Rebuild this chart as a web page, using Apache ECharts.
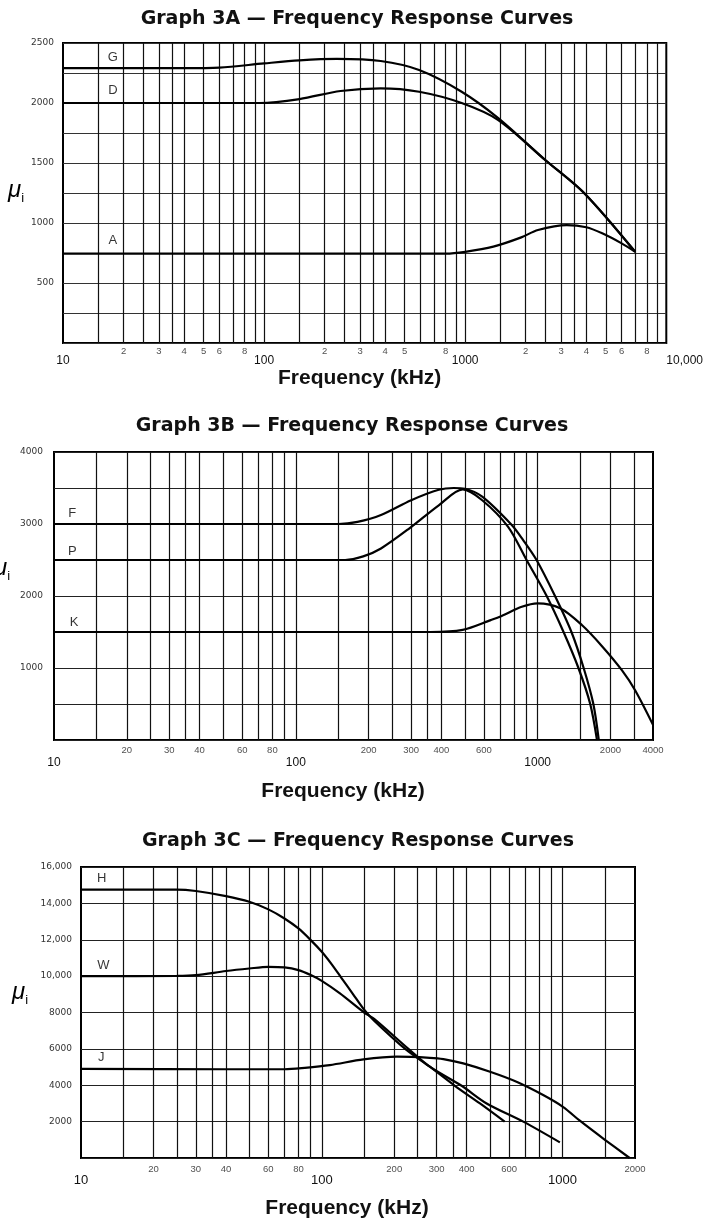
<!DOCTYPE html>
<html>
<head>
<meta charset="utf-8">
<script src="https://cdn.jsdelivr.net/npm/echarts@6/dist/echarts.min.js"></script>
<style>
html,body{margin:0;padding:0;background:#fff;}
#chart{width:706px;height:1221px;}
</style>
</head>
<body>
<div id="chart"></div>
<script>
// ---------- Graph 3A data (frequency kHz, initial permeability) ----------
const freqG = [10, 40, 60, 100, 150, 230, 380, 590, 960, 1460, 2500, 3900, 7000];
const muG   = [2290, 2290, 2295, 2330, 2355, 2367, 2350, 2275, 2094, 1874, 1525, 1250, 760];
const freqD = [10, 95, 150, 240, 380, 590, 960, 1460, 2500, 3900, 7000];
const muD   = [2000, 2000, 2033, 2100, 2122, 2094, 2000, 1858, 1525, 1250, 760];
const freqA = [10, 800, 1000, 1380, 1900, 2300, 3200, 4000, 4800, 6000, 7000];
const muA   = [745, 745, 760, 803, 880, 942, 983, 965, 914, 830, 760];

// ---------- Graph 3B data ----------
const freqF = [10, 150, 180, 225, 300, 390, 450, 500, 590, 780, 870, 990, 1180, 1380, 1550, 1700, 1790];
const muF   = [3000, 3000, 3030, 3125, 3330, 3475, 3500, 3490, 3380, 2990, 2780, 2500, 2000, 1500, 1000, 500, 0];
const freqP = [10, 160, 190, 225, 295, 390, 490, 590, 755, 900, 1090, 1280, 1475, 1650, 1760];
const muP   = [2500, 2500, 2550, 2660, 2940, 3260, 3480, 3330, 2960, 2500, 2000, 1500, 1000, 500, 0];
const freqK = [10, 360, 490, 640, 710, 860, 1000, 1240, 1520, 1850, 2230, 2530, 3000];
const muK   = [1500, 1500, 1530, 1665, 1722, 1850, 1898, 1830, 1600, 1300, 970, 690, 210];

// ---------- Graph 3C data ----------
const freqH = [10, 25, 30, 40, 50, 60, 70, 80, 90, 100, 110, 120, 135, 150, 165, 222, 281, 357, 454, 575];
const muH   = [14760, 14760, 14680, 14400, 14090, 13670, 13170, 12620, 11980, 11340, 10650, 9950, 9000, 8150, 7550, 6000, 5020, 3970, 3000, 2000];
const freqW = [10, 25, 30, 40, 50, 60, 70, 80, 90, 100, 119, 150, 165, 229, 281, 381, 484, 687, 975];
const muW   = [10000, 10010, 10050, 10280, 10420, 10510, 10480, 10330, 10060, 9740, 9050, 8000, 7650, 6000, 5020, 3970, 3000, 2000, 860];
const freqJ = [10, 40, 70, 85, 108, 149, 205, 281, 320, 387, 500, 644, 831, 1007, 1180, 1500, 1900];
const muJ   = [4900, 4880, 4880, 4960, 5110, 5420, 5570, 5510, 5440, 5200, 4740, 4190, 3460, 2800, 2050, 1000, 0];

// ---------- tick labels ----------
const majorVals = [10, 100, 1000, 10000];
const majorText = ['10', '100', '1000', '10,000'];
const minorVals3A = [20, 30, 40, 50, 60, 80, 200, 300, 400, 500, 800, 2000, 3000, 4000, 5000, 6000, 8000];
const minorText3A = ['2', '3', '4', '5', '6', '8', '2', '3', '4', '5', '8', '2', '3', '4', '5', '6', '8'];
const minorVals3B = [20, 30, 40, 60, 80, 200, 300, 400, 600, 2000, 3000];
const minorText3B = ['20', '30', '40', '60', '80', '200', '300', '400', '600', '2000', '4000'];
const minorVals3C = [20, 30, 40, 60, 80, 200, 300, 400, 600, 2000];
const minorText3C = ['20', '30', '40', '60', '80', '200', '300', '400', '600', '2000'];
const gridSteps = [1, 1.5, 2, 2.5, 3, 3.5, 4, 5, 6, 7, 8, 9];

const titles = ['Graph 3A \u2014 Frequency Response Curves',
                'Graph 3B \u2014 Frequency Response Curves',
                'Graph 3C \u2014 Frequency Response Curves'];

function pairs(xs, ys) { return xs.map((x, i) => [x, ys[i]]); }
function gridValues(min, max) {
  const out = [];
  for (let d = min; d < max; d *= 10) {
    for (const s of gridSteps) {
      const v = +(d * s).toPrecision(6);
      if (v > min && v < max) out.push(v);
    }
  }
  return out;
}

const FONT = '"Liberation Sans", Arial, sans-serif';
const BOLD = '"DejaVu Sans", sans-serif';

const grids = [
  { left: 63, top: 43, width: 604, height: 300 },
  { left: 54, top: 452, width: 599, height: 288 },
  { left: 81, top: 867, width: 554, height: 291 }
];
const xRanges = [[10, 10000], [10, 3000], [10, 2000]];
const yRanges = [[0, 2500, 250, 500], [0, 4000, 500, 1000], [0, 16000, 2000, 2000]];

function fmtY(v, gi) {
  if (v === 0) return '';
  if (v % yRanges[gi][3] !== 0) return '';
  if (v >= 10000) return String(v).replace(/(\d)(\d{3})$/, '$1,$2');
  return String(v);
}
function fmtX(v) {
  const k = majorVals.findIndex(m => Math.abs(m - v) < 1e-6 * m);
  return k >= 0 ? majorText[k] : '';
}

const xAxes = grids.map((g, i) => ({
  type: 'log', logBase: 10, gridIndex: i,
  min: xRanges[i][0], max: xRanges[i][1],
  axisLine: { show: false }, axisTick: { show: false }, splitLine: { show: false },
  axisLabel: {
    show: true, color: '#111', fontFamily: FONT,
    fontSize: [12, 12, 13][i], margin: [12, 17, 16][i],
    showMinLabel: true, showMaxLabel: true, alignMaxLabel: 'left',
    formatter: fmtX
  },
  name: 'Frequency (kHz)', nameLocation: 'middle',
  nameGap: [25, 41, 40][i],
  nameTextStyle: {
    fontFamily: FONT, fontWeight: 'bold', fontSize: 21, color: '#111',
    padding: [[0, 10, 0, 0], [0, 21, 0, 0], [0, 22, 0, 0]][i]
  }
}));

const yAxes = grids.map((g, i) => ({
  type: 'value', gridIndex: i,
  min: yRanges[i][0], max: yRanges[i][1], interval: yRanges[i][2],
  axisLine: { show: false }, axisTick: { show: false },
  splitLine: { show: true, lineStyle: { color: i === 0 ? '#333' : '#222', width: 1.2 } },
  axisLabel: {
    color: '#333', fontFamily: '"DejaVu Sans", sans-serif', fontSize: 9,
    margin: [9, 11, 9][i],
    formatter: v => fmtY(v, i)
  }
}));

function curve(name, gi, xs, ys, withGrid) {
  const s = {
    type: 'line', name, xAxisIndex: gi, yAxisIndex: gi,
    data: pairs(xs, ys), showSymbol: false, smooth: 0.3,
    lineStyle: { color: '#000', width: 2.2 }, silent: true, animation: false, z: 5
  };
  if (withGrid) {
    s.markLine = {
      silent: true, symbol: 'none', animation: false,
      label: { show: false },
      lineStyle: { color: '#111', width: 1.2, type: 'solid' },
      emphasis: { disabled: true },
      data: gridValues(xRanges[gi][0], xRanges[gi][1]).map(v => ({ xAxis: v }))
    };
  }
  return s;
}

function textSeries(gi, items, opts) {
  return {
    type: 'scatter', xAxisIndex: gi, yAxisIndex: gi, clip: false, silent: true,
    animation: false, symbol: 'circle', symbolSize: 1,
    itemStyle: { color: 'rgba(0,0,0,0)' }, z: 10,
    data: items,
    label: Object.assign({ show: true, formatter: '{b}', color: '#111', fontFamily: FONT }, opts)
  };
}
function minorLabels(gi, vals, texts, fontSize, distance) {
  return textSeries(gi, vals.map((v, k) => ({ value: [v, 0], name: texts[k] })),
    { position: 'bottom', distance, fontSize, color: '#222' });
}

const seriesLetters = [
  [{ value: [17.7, 2383], name: 'G' }, { value: [17.7, 2108], name: 'D' }, { value: [17.7, 855], name: 'A' }],
  [{ value: [11.9, 3153], name: 'F' }, { value: [11.9, 2625], name: 'P' }, { value: [12.1, 1629], name: 'K' }],
  [{ value: [12.2, 15370], name: 'H' }, { value: [12.4, 10605], name: 'W' }, { value: [12.15, 5533], name: 'J' }]
];

const series = [
  curve('G', 0, freqG, muG, true),
  curve('D', 0, freqD, muD, false),
  curve('A', 0, freqA, muA, false),
  curve('F', 1, freqF, muF, true),
  curve('P', 1, freqP, muP, false),
  curve('K', 1, freqK, muK, false),
  curve('H', 2, freqH, muH, true),
  curve('W', 2, freqW, muW, false),
  curve('J', 2, freqJ, muJ, false),
  minorLabels(0, minorVals3A, minorText3A, 9.5, 3),
  minorLabels(1, minorVals3B, minorText3B, 9.5, 5),
  minorLabels(2, minorVals3C, minorText3C, 9.5, 6),
  textSeries(0, seriesLetters[0], { position: 'inside', fontSize: 13, color: '#000' }),
  textSeries(1, seriesLetters[1], { position: 'inside', fontSize: 13, color: '#000' }),
  textSeries(2, seriesLetters[2], { position: 'inside', fontSize: 13, color: '#000' })
];

const muRich = {
  m: { fontSize: 24, fontStyle: 'italic', fontFamily: FONT, color: '#111', lineHeight: 30 },
  s: { fontSize: 13, fontFamily: FONT, color: '#111', verticalAlign: 'bottom', lineHeight: 30 }
};
const muPos = [[8, 178], [-6, 556], [12, 980]];

const option = {
  backgroundColor: '#fff',
  animation: false,
  title: titles.map((t, i) => ({
    text: t, left: [357, 352, 358][i], top: [10, 417, 832][i], textAlign: 'center', padding: 0,
    textStyle: { fontFamily: BOLD, fontWeight: 'bold', fontSize: 19, color: '#111' }
  })),
  grid: grids.map(g => Object.assign({ show: true, borderColor: '#000', borderWidth: 2, backgroundColor: 'transparent', containLabel: false }, g)),
  xAxis: xAxes,
  yAxis: yAxes,
  graphic: muPos.map(p => ({
    type: 'text', left: p[0], top: p[1], silent: true,
    style: { text: '{m|\u03bc}{s|i}', rich: muRich }
  })),
  series
};

const chart = echarts.init(document.getElementById('chart'), null, { renderer: 'canvas' });
chart.setOption(option);
</script>
</body>
</html>
